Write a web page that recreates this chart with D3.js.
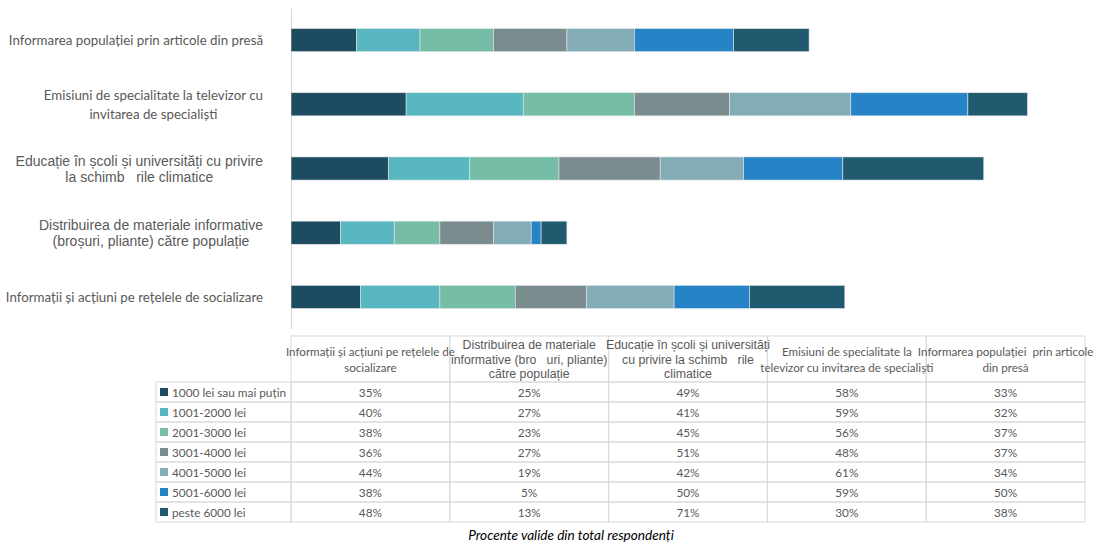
<!DOCTYPE html>
<html><head><meta charset="utf-8">
<script src="https://cdn.jsdelivr.net/npm/d3@7/dist/d3.min.js"></script>
<style>
html,body{margin:0;padding:0;background:#fff;}
svg{display:block;}
svg text{white-space:pre;}
</style></head>
<body>
<svg id="chart" width="1100" height="545"></svg>
<script>
// ---- data ----
const categories = [
  "Informații și acțiuni pe rețelele de socializare",
  "Distribuirea de materiale informative (broșuri, pliante) către populație",
  "Educație în școli și universități cu privire la schimbările climatice",
  "Emisiuni de specialitate la televizor cu invitarea de specialiști",
  "Informarea populației prin articole din presă"
];
// labels as shown next to the bars (one array entry per line)
const axisLabels = [
  ["Informații și acțiuni pe rețelele de socializare"],
  ["Distribuirea de materiale informative", "(broșuri, pliante) către populație"],
  ["Educație în școli și universități cu privire", "la schimb   rile climatice"],
  ["Emisiuni de specialitate la televizor cu", "invitarea de specialiști"],
  ["Informarea populației prin articole din presă"]
];
// header texts as shown in the data table
const tableHeaders = [
  ["Informații și acțiuni pe rețelele de", "socializare"],
  ["Distribuirea de materiale", "informative (bro   uri, pliante)", "către populație"],
  ["Educație în școli și universități", "cu privire la schimb   rile", "climatice"],
  ["Emisiuni de specialitate la", "televizor cu invitarea de specialiști"],
  ["Informarea populației  prin articole", "din presă"]
];
const seriesNames = ["1000 lei sau mai puțin","1001-2000 lei","2001-3000 lei","3001-4000 lei","4001-5000 lei","5001-6000 lei","peste 6000 lei"];
const s1000  = [0.35, 0.25, 0.49, 0.58, 0.33];
const s2000  = [0.40, 0.27, 0.41, 0.59, 0.32];
const s3000  = [0.38, 0.23, 0.45, 0.56, 0.37];
const s4000  = [0.36, 0.27, 0.51, 0.48, 0.37];
const s5000  = [0.44, 0.19, 0.42, 0.61, 0.34];
const s6000  = [0.38, 0.05, 0.50, 0.59, 0.50];
const sOver  = [0.48, 0.13, 0.71, 0.30, 0.38];
const seriesValues = [s1000, s2000, s3000, s4000, s5000, s6000, sOver];
const colors = ["#1d4b5f","#58b6c0","#75bda7","#7a8c8e","#84acb6","#2683c6","#205a6f"];
const caption = "Procente valide din total respondenți";

// ---- layout ----
const svg = d3.select("#chart");
const plotLeft = 291, plotRight = 1085, plotTop = 8, plotBottom = 329;
const x = d3.scaleLinear().domain([0, 4]).range([plotLeft, plotRight]);
const yOrder = categories.map((c,i)=>i).reverse();
const y = d3.scaleBand().domain(yOrder).range([plotTop, plotBottom]).paddingInner(0.64).paddingOuter(0.32);

const rows = categories.map((c,i)=>{
  const o = {idx:i};
  seriesNames.forEach((s,j)=>o[s]=seriesValues[j][i]);
  return o;
});
const stacked = d3.stack().keys(seriesNames)(rows);

const labelColor = "#595959";
const calibri = "Lato, 'Open Sans', sans-serif";
const arialF = "'Liberation Sans', Arial, sans-serif";

// axis line
const yAxis = d3.axisLeft(y).tickSize(0).tickFormat("");
const ag = svg.append("g").attr("transform",`translate(${plotLeft},0)`).call(yAxis);
ag.select(".domain").attr("stroke","#d9d9d9").attr("stroke-width",1);

// bars
stacked.forEach((layer,j)=>{
  svg.append("g").selectAll("rect").data(layer).join("rect")
    .attr("x", d=>x(d[0]))
    .attr("y", d=>y(d.data.idx))
    .attr("width", d=>x(d[1])-x(d[0]))
    .attr("height", y.bandwidth())
    .attr("fill", colors[j])
    .attr("stroke","#dfe6e9").attr("stroke-width",0.6);
});

// category labels
const labelRight = 263;
axisLabels.forEach((lines,i)=>{
  const cy = y(i) + y.bandwidth()/2;
  const g = svg.append("g");
  const arial = (i===1 || i===2);
  const fs = arial ? 14 : 13.3;
  const ff = arial ? arialF : calibri;
  const lh = arial ? 16 : 19;
  const texts = lines.map((ln,k)=> g.append("text")
      .attr("font-family", ff).attr("font-size", fs).attr("fill", labelColor)
      .attr("dominant-baseline","central")
      .attr("text-anchor","middle")
      .attr("y", cy + (k - (lines.length-1)/2)*lh)
      .text(ln));
  const maxW = d3.max(texts, t=>t.node().getComputedTextLength());
  texts.forEach(t=>t.attr("x", labelRight - maxW/2));
});

// ---- data table ----
const colW = (plotRight - plotLeft)/categories.length;
const tableTop = 336, headerBottom = 382, rowH = 20, legendLeft = 156;
const gridColor = "#d9d9d9";
const tg = svg.append("g");
categories.forEach((c,i)=>{
  tg.append("rect").attr("x", plotLeft + i*colW).attr("y", tableTop)
    .attr("width", colW).attr("height", headerBottom - tableTop)
    .attr("fill","none").attr("stroke",gridColor);
});
seriesNames.forEach((s,j)=>{
  const ry = headerBottom + j*rowH;
  tg.append("rect").attr("x", legendLeft).attr("y", ry).attr("width", plotLeft-legendLeft).attr("height", rowH)
    .attr("fill","none").attr("stroke",gridColor);
  categories.forEach((c,i)=>{
    tg.append("rect").attr("x", plotLeft + i*colW).attr("y", ry).attr("width", colW).attr("height", rowH)
      .attr("fill","none").attr("stroke",gridColor);
  });
});
tableHeaders.forEach((lines,i)=>{
  const cx = plotLeft + (i+0.5)*colW;
  const arial = (i===1 || i===2);
  const lh = arial ? 14.5 : 15.5;
  const cyh = (tableTop + headerBottom)/2 + 0.5;
  lines.forEach((ln,k)=>{
    tg.append("text").attr("x", cx).attr("y", cyh + (k-(lines.length-1)/2)*lh)
      .attr("text-anchor","middle").attr("dominant-baseline","central")
      .attr("font-family", arial ? arialF : calibri)
      .attr("font-size", arial ? 12.3 : 11.6).attr("fill", labelColor)
      .text(ln);
  });
});
const fmt = d3.format(".0%");
seriesNames.forEach((s,j)=>{
  const cy = headerBottom + j*rowH + rowH/2;
  tg.append("rect").attr("x", 160).attr("y", cy-4).attr("width", 8).attr("height", 8).attr("fill", colors[j]);
  tg.append("text").attr("x", 172).attr("y", cy).attr("dominant-baseline","central")
    .attr("font-family", calibri).attr("font-size", 11.8).attr("fill", labelColor).text(s);
  seriesValues[j].forEach((v,i)=>{
    tg.append("text").attr("x", plotLeft + (i+0.5)*colW).attr("y", cy).attr("dominant-baseline","central")
      .attr("text-anchor","middle")
      .attr("font-family", calibri).attr("font-size", 11.8).attr("fill", labelColor)
      .text(fmt(v));
  });
});
svg.append("text").attr("x", 571).attr("y", 535).attr("text-anchor","middle").attr("dominant-baseline","central")
  .attr("font-family", calibri).attr("font-style","italic").attr("font-size", 13.6)
  .attr("fill","#000").text(caption);
</script>
</body></html>
